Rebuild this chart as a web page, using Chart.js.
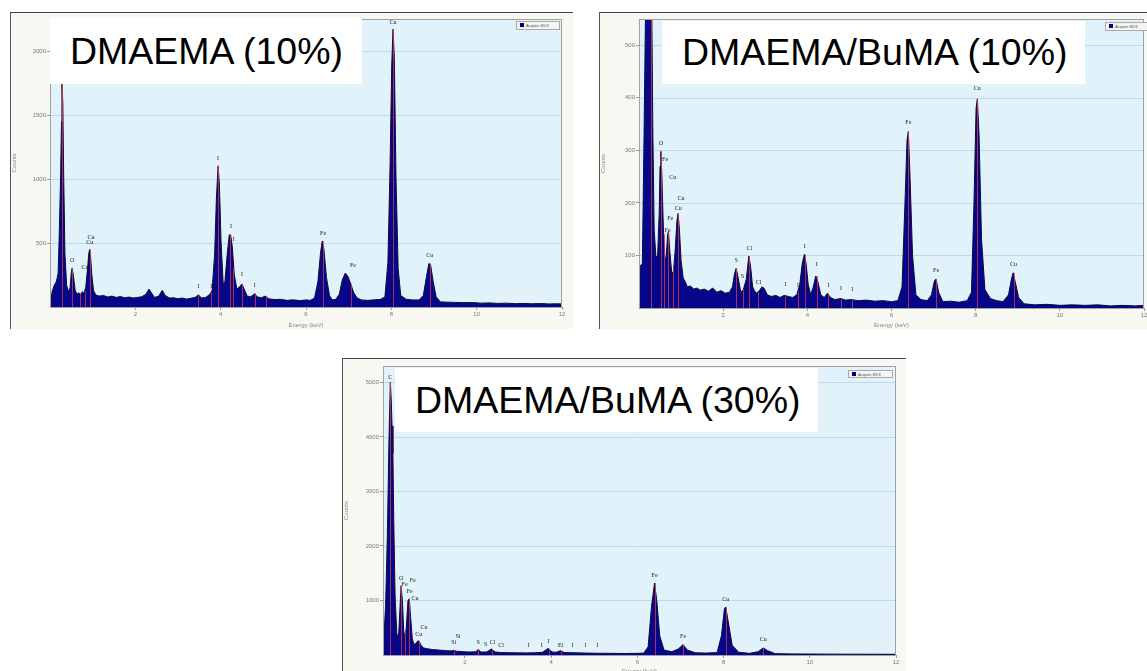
<!DOCTYPE html>
<html>
<head>
<meta charset="utf-8">
<script src="https://cdn.jsdelivr.net/npm/chart.js@4"></script>
<style>
  body { margin: 0; width: 1147px; height: 671px; overflow: hidden; position: relative; background: #fff; font-family: "Liberation Sans", Arial, sans-serif; }
  .panel { position: absolute; background: #f8f8f3; border-top: 1px solid #444; border-left: 1px solid #555; overflow: hidden; }
  .panel canvas { position: absolute; left: 0; top: 0; }
  .title { position: absolute; background: #fff; color: #000; font-size: 37.5px; white-space: nowrap; box-sizing: border-box; }
  .legend { position: absolute; background: #f4f4f4; border: 1px solid #aaa; font-size: 4px; color: #555; line-height: 7px; padding-left: 3px; box-sizing: border-box; }
  .legend b { display: inline-block; width: 4px; height: 4px; background: #00008b; margin-right: 2px; }
</style>
</head>
<body>
<div class="panel" style="left:10px;top:12px;width:562px;height:316px"><canvas id="p1" width="562" height="316"></canvas></div>
<div class="panel" style="left:599px;top:12px;width:560px;height:316px"><canvas id="p2" width="560" height="316"></canvas></div>
<div class="panel" style="left:342px;top:358px;width:563px;height:316px"><canvas id="p3" width="563" height="316"></canvas></div>

<div class="title" style="left:50px;top:18px;width:312px;height:66px;line-height:66px;padding-left:20px">DMAEMA (10%)</div>
<div class="title" style="left:662px;top:21px;width:423px;height:63px;line-height:63px;padding-left:20px">DMAEMA/BuMA (10%)</div>
<div class="title" style="left:395px;top:368px;width:423px;height:64px;line-height:64px;padding-left:20px">DMAEMA/BuMA (30%)</div>

<div class="legend" style="left:516px;top:21px;width:44px;height:9px"><b></b>Acquire EDX</div>
<div class="legend" style="left:1105px;top:22px;width:50px;height:9px"><b></b>Acquire EDX</div>
<div class="legend" style="left:848px;top:370px;width:45px;height:8px"><b></b>Acquire EDX</div>

<script>
// ---- DMAEMA (10%) ----
const p1Energy = [0.00,0.05,0.10,0.15,0.19,0.22,0.25,0.27,0.28,0.30,0.32,0.35,0.39,0.43,0.47,0.50,0.52,0.55,0.59,0.63,0.68,0.72,0.76,0.80,0.84,0.88,0.91,0.93,0.95,0.98,1.02,1.07,1.15,1.25,1.35,1.45,1.55,1.65,1.75,1.85,1.95,2.05,2.15,2.25,2.32,2.38,2.45,2.55,2.63,2.70,2.80,2.90,3.00,3.10,3.20,3.30,3.40,3.48,3.55,3.65,3.75,3.80,3.86,3.90,3.94,3.97,4.01,4.06,4.10,4.15,4.20,4.23,4.27,4.32,4.38,4.45,4.50,4.55,4.62,4.70,4.77,4.80,4.85,4.95,5.05,5.12,5.25,5.40,5.55,5.70,5.85,6.00,6.10,6.20,6.28,6.34,6.38,6.42,6.48,6.55,6.62,6.70,6.78,6.85,6.92,6.98,7.05,7.12,7.20,7.30,7.45,7.60,7.75,7.85,7.92,7.97,8.01,8.04,8.07,8.11,8.16,8.22,8.35,8.50,8.65,8.75,8.82,8.88,8.92,8.98,9.05,9.15,9.30,9.50,9.70,9.90,10.10,10.30,10.50,10.70,10.90,11.10,11.30,11.50,11.70,11.90,12.00];
const p1Counts = [0,120,170,200,260,600,1050,1450,1740,1600,1050,420,170,120,150,270,305,240,130,100,110,95,120,105,160,300,420,450,400,250,130,95,85,90,78,85,75,82,72,78,70,75,80,100,140,110,75,85,130,90,70,72,65,70,62,68,75,95,70,75,100,130,420,850,1100,960,500,180,200,400,560,570,480,250,140,160,180,140,85,80,95,105,80,72,85,65,58,60,52,56,50,55,52,70,200,420,515,450,230,90,55,60,100,210,265,240,180,110,70,55,52,56,60,80,350,1100,1900,2170,1950,1000,300,90,60,55,55,90,230,340,330,200,80,40,38,36,34,35,30,32,28,30,26,28,25,27,24,25,24];
const p1LineEnergy = [0.28,0.52,0.70,0.81,0.93,3.48,3.78,3.94,4.22,4.28,4.50,4.80,5.07,6.40,7.06,8.04,8.90];
const p1LineTop = [1740,305,110,120,450,95,110,1110,570,300,180,105,85,515,180,2170,340];
const p1Labels = ['O','Cu','Cu','Cu','I','I','I','I','I','I','I','Fe','Fe','Cu','Cu'];
const p1LabelEnergy = [0.52,0.96,0.93,0.82,3.48,3.78,3.94,4.24,4.30,4.50,4.80,6.40,7.10,8.04,8.90];
const p1LabelCounts = [330,510,470,280,130,130,1130,600,500,220,135,540,290,2190,370];

// ---- DMAEMA/BuMA (10%) ----
const p2Energy = [0.00,0.03,0.08,0.12,0.16,0.20,0.26,0.30,0.33,0.36,0.40,0.44,0.48,0.50,0.52,0.54,0.58,0.62,0.65,0.68,0.70,0.73,0.78,0.82,0.86,0.90,0.93,0.96,1.00,1.05,1.10,1.15,1.22,1.30,1.38,1.45,1.55,1.65,1.75,1.85,1.95,2.05,2.15,2.22,2.27,2.31,2.35,2.42,2.48,2.55,2.61,2.65,2.70,2.78,2.85,2.92,2.97,3.05,3.15,3.25,3.35,3.45,3.55,3.65,3.75,3.82,3.88,3.93,3.97,4.02,4.08,4.14,4.20,4.25,4.32,4.40,4.48,4.55,4.65,4.80,4.90,5.05,5.20,5.40,5.60,5.80,6.00,6.15,6.25,6.32,6.37,6.40,6.44,6.50,6.58,6.70,6.85,6.95,7.02,7.06,7.12,7.22,7.40,7.60,7.80,7.90,7.96,8.01,8.04,8.08,8.14,8.22,8.35,8.50,8.65,8.78,8.85,8.89,8.94,9.02,9.15,9.40,9.70,10.00,10.30,10.60,10.90,11.20,11.50,11.80,12.00];
const p2Counts = [0,80,85,330,600,700,700,600,330,150,100,95,180,270,298,260,150,89,100,140,146,110,65,70,110,165,180,150,90,57,50,40,42,36,38,34,36,32,38,30,33,28,30,40,65,76,60,30,35,55,99,80,40,28,32,40,38,25,22,24,20,24,22,20,25,45,85,102,85,45,25,40,61,50,25,20,28,20,16,18,15,16,14,15,13,14,12,14,40,200,320,336,250,100,25,16,14,25,52,55,30,12,13,11,14,30,200,380,398,330,130,35,18,14,12,25,55,67,50,20,8,6,7,5,6,5,6,4,5,4,5];
const p2LineEnergy = [0.28,0.52,0.60,0.70,0.80,0.93,2.31,2.46,2.62,2.82,3.48,3.78,3.94,4.22,4.50,4.80,5.07,6.40,7.06,8.04,8.90];
const p2LineTop = [600,298,140,146,75,180,76,35,99,30,22,30,102,61,28,18,16,336,55,398,67];
const p2Labels = ['O','Fe','Cu','Cu','Cu','Fe','Fe','S','S','Cl','Cl','I','I','I','I','I','I','I','Fe','Fe','Cu','Cu'];
const p2LabelEnergy = [0.52,0.62,0.80,1.00,0.93,0.74,0.68,2.31,2.46,2.62,2.84,3.48,3.78,3.94,4.22,4.50,4.80,5.07,6.40,7.06,8.04,8.90];
const p2LabelCounts = [305,275,240,200,182,162,140,82,52,106,42,38,36,110,75,36,30,28,345,64,410,76];

// ---- DMAEMA/BuMA (30%) ----
const p3Energy = [0.10,0.12,0.16,0.20,0.24,0.27,0.29,0.31,0.33,0.35,0.38,0.42,0.46,0.49,0.52,0.55,0.58,0.61,0.64,0.68,0.71,0.74,0.78,0.82,0.87,0.91,0.94,0.98,1.04,1.12,1.25,1.40,1.55,1.68,1.74,1.80,1.95,2.10,2.25,2.31,2.37,2.50,2.62,2.70,2.85,3.00,3.20,3.40,3.60,3.80,3.93,4.02,4.12,4.22,4.30,4.50,4.80,5.10,5.40,5.70,6.00,6.15,6.25,6.33,6.40,6.45,6.52,6.62,6.80,6.95,7.06,7.16,7.35,7.60,7.85,7.95,8.02,8.05,8.10,8.20,8.35,8.60,8.80,8.92,9.02,9.20,9.60,10.00,10.50,11.00,11.50,12.00];
const p3Counts = [0,310,900,2150,4000,5000,4700,4200,3700,2450,1100,390,330,800,1270,1000,450,300,500,1000,1030,700,300,190,220,260,250,180,130,115,100,90,80,75,85,70,60,55,60,100,55,55,110,55,45,42,40,38,40,50,120,55,50,80,45,42,35,32,30,28,30,35,150,900,1320,1000,350,90,60,110,190,90,40,35,45,350,850,880,650,180,50,30,60,130,80,25,20,18,16,15,14,13];
const p3LineEnergy = [0.27,0.52,0.62,0.71,0.93,1.74,2.31,2.62,3.94,4.22,6.40,7.06,8.05,8.92];
const p3LineTop = [5000,1270,420,1030,260,85,100,110,120,80,1320,190,880,130];
const p3Labels = ['C','O','Fe','Fe','Fe','Cu','Cu','Cu','Si','Si','S','S','Cl','Cl','I','I','I','Ei','I','I','I','Fe','Fe','Cu','Cu'];
const p3LabelEnergy = [0.27,0.52,0.60,0.72,0.79,0.84,1.05,0.93,1.84,1.74,2.31,2.48,2.64,2.84,3.48,3.78,3.94,4.22,4.50,4.80,5.07,6.40,7.06,8.05,8.92];
const p3LabelCounts = [5020,1330,1230,1100,1290,970,440,310,270,150,150,120,160,110,100,100,170,110,100,100,100,1380,270,950,210];

const xTicks = [2, 4, 6, 8, 10, 12];

const spectrumPlugin = {
  id: 'spectrum',
  beforeDatasetsDraw(chart) {
    const { ctx, chartArea: a } = chart;
    ctx.save();
    ctx.fillStyle = '#e1f2fa';
    ctx.fillRect(a.left, a.top, a.right - a.left, a.bottom - a.top);
    const y = chart.scales.y;
    ctx.strokeStyle = '#b4def0';
    ctx.lineWidth = 1;
    y.ticks.forEach(t => {
      const py = Math.round(y.getPixelForValue(t.value)) + 0.5;
      ctx.beginPath(); ctx.moveTo(a.left, py); ctx.lineTo(a.right, py); ctx.stroke();
    });
    ctx.restore();
  },
  afterDatasetsDraw(chart, args, opts) {
    const { ctx, chartArea: a } = chart;
    const x = chart.scales.x, y = chart.scales.y;
    ctx.save();
    ctx.beginPath(); ctx.rect(a.left, a.top, a.right - a.left, a.bottom - a.top); ctx.clip();
    ctx.strokeStyle = 'rgba(230,60,70,0.75)';
    ctx.lineWidth = 1;
    opts.lineEnergy.forEach((e, i) => {
      const px = Math.round(x.getPixelForValue(e)) + 0.5;
      ctx.beginPath();
      ctx.moveTo(px, y.getPixelForValue(0));
      ctx.lineTo(px, y.getPixelForValue(opts.lineTop[i]));
      ctx.stroke();
    });
    ctx.fillStyle = '#222';
    ctx.font = '6px "Liberation Serif"';
    ctx.textAlign = 'center';
    ctx.textBaseline = 'bottom';
    opts.labels.forEach((s, i) => {
      ctx.fillText(s, x.getPixelForValue(opts.labelEnergy[i]), y.getPixelForValue(opts.labelCounts[i]) - 1);
    });
    ctx.restore();
    ctx.strokeStyle = '#a0a0a0';
    ctx.strokeRect(a.left + 0.5, a.top + 0.5, a.right - a.left - 1, a.bottom - a.top);
  }
};

function spectrum(id, energy, counts, s) {
  const yStep = s.yStep;
  new Chart(document.getElementById(id), {
    type: 'line',
    data: {
      datasets: [{
        data: energy.map((e, i) => ({ x: e, y: counts[i] })),
        fill: 'origin',
        backgroundColor: '#06068a',
        borderColor: '#0c0c3a',
        borderWidth: 1,
        pointRadius: 0,
        tension: 0
      }]
    },
    options: {
      responsive: false,
      animation: false,
      events: [],
      layout: { padding: { left: 0, right: s.padRight, top: s.padTop, bottom: 0 } },
      plugins: {
        legend: { display: false },
        tooltip: { enabled: false },
        spectrum: s.marks
      },
      scales: {
        x: {
          type: 'linear', min: s.xMin, max: 12,
          afterBuildTicks: sc => { sc.ticks = xTicks.map(v => ({ value: v })); },
          afterFit: sc => { sc.height = s.xHeight; },
          grid: { drawOnChartArea: false, drawTicks: true, tickLength: 3, tickColor: '#999' },
          border: { color: '#999' },
          ticks: { font: { size: 6 }, color: '#777', padding: 1, maxRotation: 0, callback: v => String(v) },
          title: { display: true, text: 'Energy (keV)', font: { size: 6 }, color: '#888', padding: { top: 1, bottom: 0 } }
        },
        y: {
          min: 0, max: s.yMax,
          afterBuildTicks: sc => {
            const t = [];
            for (let v = yStep; v <= s.yMax; v += yStep) t.push({ value: v });
            sc.ticks = t;
          },
          afterFit: sc => { sc.width = s.yWidth; },
          grid: { drawOnChartArea: false, drawTicks: true, tickLength: 3, tickColor: '#999' },
          border: { color: '#999' },
          ticks: { font: { size: 6 }, color: '#777', padding: 1, callback: v => String(v) },
          title: { display: true, text: 'Counts', font: { size: 6 }, color: '#888', padding: 0 }
        }
      }
    },
    plugins: [spectrumPlugin]
  });
}

spectrum('p1', p1Energy, p1Counts, {
  xMin: 0, yMax: 2250, yStep: 500, padRight: 11, padTop: 6, xHeight: 22, yWidth: 39,
  marks: { lineEnergy: p1LineEnergy, lineTop: p1LineTop, labels: p1Labels, labelEnergy: p1LabelEnergy, labelCounts: p1LabelCounts }
});
spectrum('p2', p2Energy, p2Counts, {
  xMin: 0, yMax: 550, yStep: 100, padRight: 16, padTop: 6, xHeight: 21, yWidth: 39,
  marks: { lineEnergy: p2LineEnergy, lineTop: p2LineTop, labels: p2Labels, labelEnergy: p2LabelEnergy, labelCounts: p2LabelCounts }
});
spectrum('p3', p3Energy, p3Counts, {
  xMin: 0.1, yMax: 5300, yStep: 1000, padRight: 10, padTop: 7, xHeight: 20, yWidth: 40,
  marks: { lineEnergy: p3LineEnergy, lineTop: p3LineTop, labels: p3Labels, labelEnergy: p3LabelEnergy, labelCounts: p3LabelCounts }
});
</script>
</body>
</html>
